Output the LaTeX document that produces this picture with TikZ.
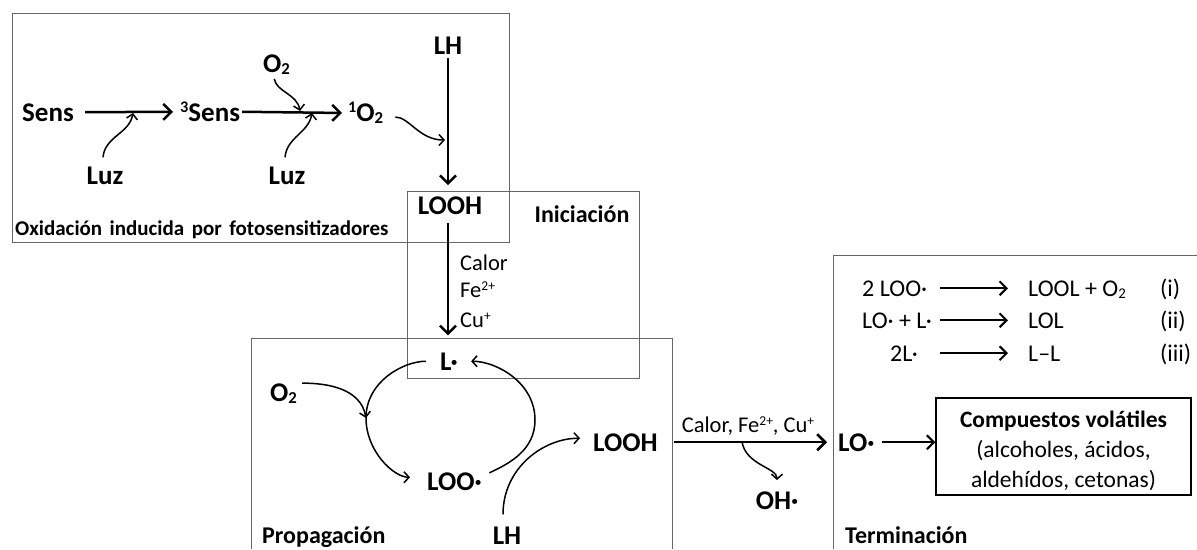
\documentclass[tikz,border=0pt]{standalone}
\usepackage{fontspec}
\usepackage{graphicx}
\setmainfont{Carlito}
\usetikzlibrary{arrows.meta}
\newcommand\supx[1]{\raisebox{0.3em}{\scalebox{0.6}{#1}}}
\newcommand\subx[1]{\raisebox{-0.1em}{\scalebox{0.62}{#1}}}
\begin{document}
\begin{tikzpicture}[x=1pt,y=1pt,
  big/.style={font=\fontsize{27}{30}\selectfont\bfseries, inner sep=0pt},
  lab/.style={font=\fontsize{24}{28}\selectfont\bfseries, inner sep=0pt},
  reg/.style={font=\fontsize{22.5}{26}\selectfont, inner sep=0pt},
  row/.style={font=\fontsize{24}{28}\selectfont, inner sep=0pt},
  frame/.style={draw=black!60, line width=1pt},
  mainarr/.style={line width=2.5pt, -{Straight Barb[length=8pt,width=16pt]}},
  termarr/.style={line width=2pt, -{Straight Barb[length=7pt,width=14pt]}},
  curvarr/.style={line width=1.5pt, -{Straight Barb[length=5pt,width=11pt]}},
]
\useasboundingbox (0,0) rectangle (1197,-549);
% frames
\draw[frame] (12,-13) rectangle (509,-242);
\draw[frame] (407,-191) rectangle (639,-378);
\draw[frame] (251,-549) -- (251,-338) -- (672,-338) -- (672,-549);
\draw[frame] (833,-549) -- (833,-255) -- (1197,-255);
% photo-oxidation
\node[big, anchor=base west] (sens) at (22,-121) {Sens};
\node[big, anchor=base west] (tsens) at (180,-121) {\supx{3}Sens};
\node[big, anchor=base west] (so) at (348,-121) {\supx{1}O\subx{2}};
\node[big, anchor=base] (luza) at (105,-184) {Luz};
\node[big, anchor=base] (luzb) at (287,-184) {Luz};
\node[big, anchor=base west] (o2a) at (263,-72) {O\subx{2}};
\node[big, anchor=base] (lha) at (448,-54) {LH};
\node[big, anchor=base] (looha) at (450,-214) {LOOH};
\node[font=\fontsize{21}{24}\selectfont\bfseries, inner sep=0pt, anchor=base west] (oxlab) at (15,-235) {\spaceskip=7.5pt Oxidación inducida por fotosensitizadores};
\draw[mainarr, shorten <=11pt, shorten >=7pt] (sens.east) -- (tsens.west);
\draw[mainarr, shorten <=2pt, shorten >=6pt] (tsens.east) -- (so.west);
\coordinate (h1) at (133,-113);
\coordinate (h2) at (312,-113);
\coordinate (h3) at (300,-111);
\coordinate (h4) at (445,-140);
\draw[curvarr] ([xshift=-2pt,yshift=9pt]luza.north) to[out=85,in=-100] (h1);
\draw[curvarr] ([xshift=-2pt,yshift=9pt]luzb.north) to[out=85,in=-100] (h2);
\draw[curvarr, shorten <=4pt] ([xshift=-3pt]o2a.south) to[out=-80,in=100] (h3);
\draw[curvarr, shorten <=12pt] ([yshift=-4pt]so.east) to[out=0,in=180] (h4);
\draw[mainarr, shorten <=4pt, shorten >=11pt] (lha.south) -- (lha.south |- looha.north);
% initiation
\node[lab, anchor=base] (inilab) at (582,-222) {Iniciación};
\node[reg, anchor=base west] (calor) at (460,-270) {Calor};
\node[reg, anchor=base west] (fe) at (460,-297) {Fe\supx{2+}};
\node[reg, anchor=base west] (cu) at (460,-327) {Cu\supx{+}};
\node[big, anchor=base] (l) at (449,-370) {L·};
\draw[mainarr, shorten <=9pt, shorten >=17pt] (lha.south |- looha.south) -- (lha.south |- l.north);
% propagation
\node[big, anchor=base west] (o2b) at (270,-401) {O\subx{2}};
\node[big, anchor=base west] (loo) at (427,-490) {LOO·};
\node[big, anchor=base west] (loohb) at (593,-451) {LOOH};
\node[big, anchor=base] (lhb) at (507,-544) {LH};
\node[lab, anchor=base west] (proplab) at (262,-543) {Propagación};
\coordinate (cl) at (366,-418);
\coordinate (cr) at (535,-420);
\draw[curvarr, shorten <=14pt, shorten >=17pt] (l.west) to[out=180,in=90] (cl) to[out=-90,in=180] ([yshift=4pt]loo.west);
\draw[curvarr, shorten <=8pt, shorten >=13pt] ([yshift=5pt]loo.east) to[out=25,in=-90] (cr) to[out=90,in=0] (l.east);
\draw[curvarr, shorten <=5pt] (o2b.north east) to[out=0,in=100] (cl);
\draw[curvarr, shorten <=12pt, shorten >=13pt] ([xshift=-4pt]lhb.north) .. controls +(0,58) and +(-50,0) .. ([yshift=4pt]loohb.west);
% transition
\node[reg, anchor=base] (cat) at (748,-432) {Calor, Fe\supx{2+}, Cu\supx{+}};
\node[big, anchor=base] (oh) at (777,-509) {OH·};
\node[big, anchor=base west] (lo) at (838,-451) {LO·};
\draw[mainarr, shorten <=16pt, shorten >=11pt] (loohb.east) -- (loohb.east -| lo.west);
\coordinate (h5) at (742,-442);
\draw[curvarr, shorten >=11pt] (h5) to[out=-80,in=90] (oh.north);
% termination
\node[lab, anchor=base west] (termlab) at (845,-543) {Terminación};
\node[draw, line width=1.5pt, minimum width=255pt, minimum height=97pt, inner sep=0pt] (vol) at (1063.5,-446.5) {};
\node[align=center, inner sep=0pt, font=\fontsize{23.5}{30}\selectfont] (voltxt) at ([yshift=-4pt]vol.center) {\textbf{Compuestos volátiles}\\(alcoholes, ácidos,\\aldehídos, cetonas)};
\draw[termarr, shorten <=7pt] (lo.east) -- (lo.east -| vol.west);
\node[row, anchor=base west] (r1a) at (862,-296) {2 LOO·};
\node[row, anchor=base west] (r1b) at (1028,-296) {LOOL + O\subx{2}};
\node[row, anchor=base west] (r1c) at (1160,-296) {(i)};
\node[row, anchor=base west] (r2a) at (862,-328) {LO· + L·};
\node[row, anchor=base west] (r2b) at (1028,-328) {LOL};
\node[row, anchor=base west] (r2c) at (1160,-328) {(ii)};
\node[row, anchor=base west] (r3a) at (890,-361) {2L·};
\node[row, anchor=base west] (r3b) at (1028,-361) {L--L};
\node[row, anchor=base west] (r3c) at (1160,-361) {(iii)};
\draw[termarr] ([xshift=-88pt]r1b.west |- r1a.east) -- ([xshift=-20pt]r1b.west |- r1a.east);
\draw[termarr] ([xshift=-88pt]r2b.west |- r2a.east) -- ([xshift=-20pt]r2b.west |- r2a.east);
\draw[termarr] ([xshift=-88pt]r3b.west |- r3a.east) -- ([xshift=-20pt]r3b.west |- r3a.east);
\end{tikzpicture}
\end{document}
